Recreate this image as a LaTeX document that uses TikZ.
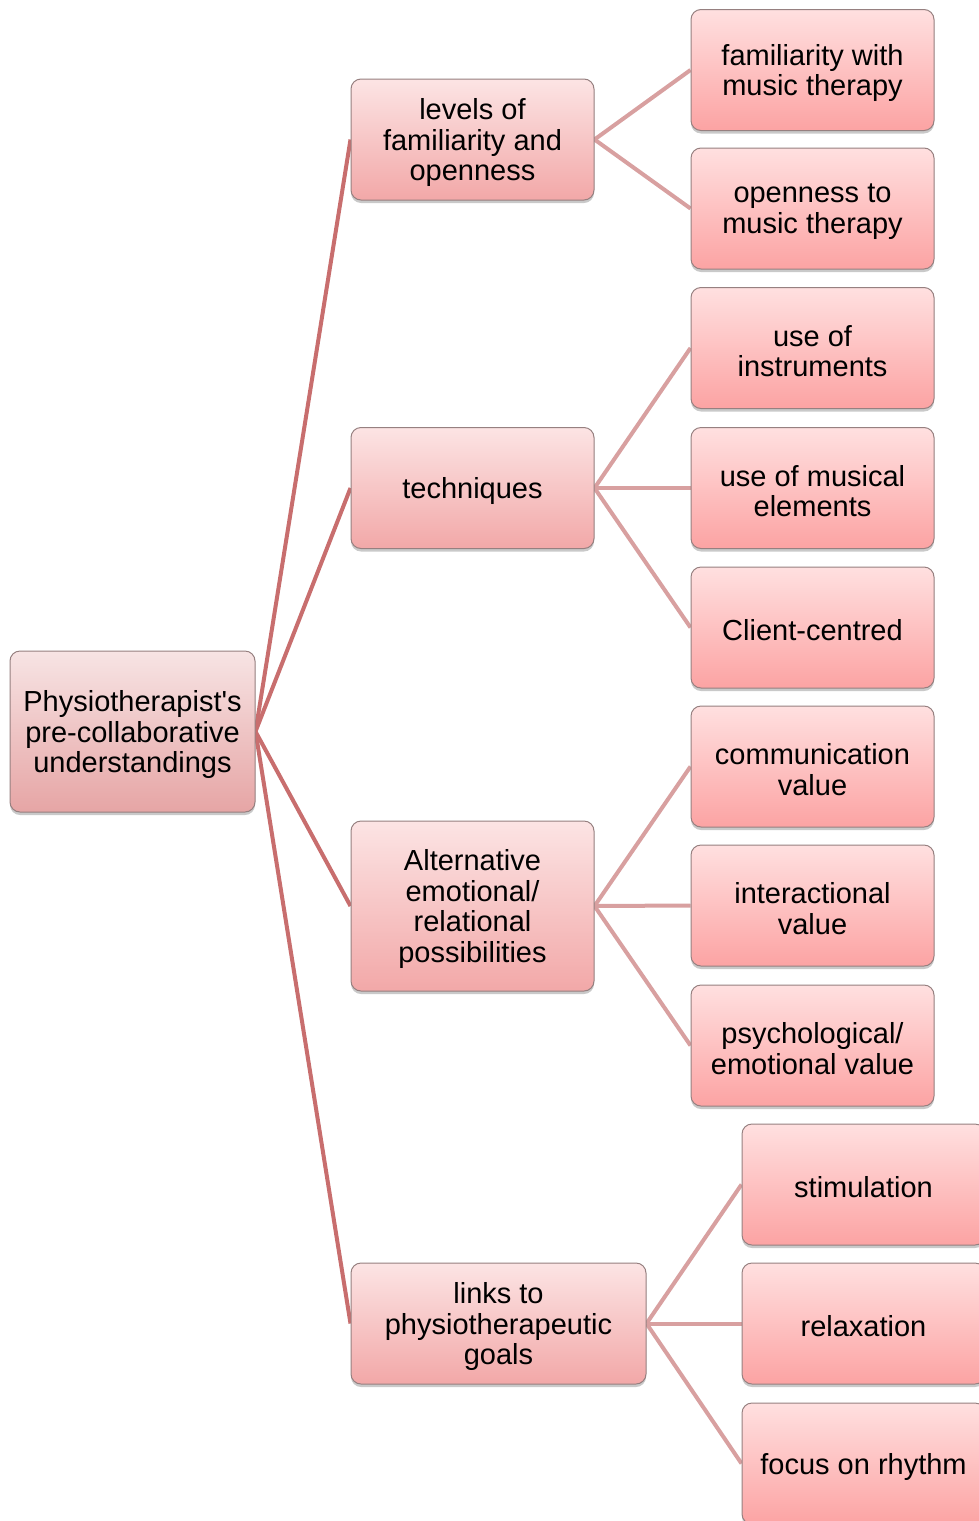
\documentclass[tikz,border=0pt]{standalone}
\usepackage{fontspec}
\setmainfont{Liberation Sans}
\usetikzlibrary{shadows,backgrounds}

\definecolor{boxline}{RGB}{150,128,128}
\definecolor{roottop}{RGB}{247,228,228}
\definecolor{rootbot}{RGB}{230,165,165}
\definecolor{midtop}{RGB}{252,228,228}
\definecolor{midbot}{RGB}{242,168,168}
\definecolor{leaftop}{RGB}{255,224,224}
\definecolor{leafbot}{RGB}{252,163,163}
\definecolor{trunk}{RGB}{200,110,110}
\definecolor{twig}{RGB}{216,160,160}

\tikzset{
  boxtext/.style={align=center, text=black, inner sep=0pt, yshift=-3pt,
    font=\fontsize{29}{30.5}\selectfont},
  txt/.style={label={[boxtext]center:{#1}}},
  box/.style={draw=boxline, line width=1pt, rounded corners=10pt,
    inner sep=0pt,
    drop shadow={shadow xshift=0pt, shadow yshift=-3pt, opacity=0.3, fill=black!70}},
  rootbox/.style={box, top color=roottop, bottom color=rootbot,
    minimum width=245pt, minimum height=161pt},
  midbox/.style={box, top color=midtop, bottom color=midbot,
    minimum width=243pt, minimum height=121pt},
  leafbox/.style={box, top color=leaftop, bottom color=leafbot,
    minimum width=243pt, minimum height=121pt},
  trunkline/.style={draw=trunk, line width=4pt},
  twigline/.style={draw=twig, line width=4pt},
}

\begin{document}
\begin{tikzpicture}[x=1pt,y=-1pt]
\useasboundingbox (0,0) rectangle (979,1521);
\clip (0,0) rectangle (979,1521);

% root
\node[rootbox, txt={Physiotherapist\textquotesingle s\\pre-collaborative\\understandings}] (root) at (132.5,731.5) {};

% first level
\node[midbox, txt={levels of\\familiarity and\\openness}] (levels) at (472.5,139.5) {};
\node[midbox, txt={techniques}] (tech) at (472.5,488) {};
\node[midbox, minimum height=170pt, txt={Alternative\\emotional/\\relational\\possibilities}] (alt) at (472.5,906) {};
\node[midbox, minimum width=295pt, txt={links to\\physiotherapeutic\\goals}] (links) at (498.5,1323.5) {};

% second level
\node[leafbox, txt={familiarity with\\music therapy}] (fam) at (812.5,70) {};
\node[leafbox, txt={openness to\\music therapy}] (open) at (812.5,208.5) {};
\node[leafbox, txt={use of\\instruments}] (instr) at (812.5,348) {};
\node[leafbox, txt={use of musical\\elements}] (elem) at (812.5,488) {};
\node[leafbox, txt={Client-centred}] (client) at (812.5,627.5) {};
\node[leafbox, txt={communication\\value}] (comm) at (812.5,766.5) {};
\node[leafbox, txt={interactional\\value}] (inter) at (812.5,905.5) {};
\node[leafbox, txt={psychological/\\emotional value}] (psych) at (812.5,1045.5) {};
\node[leafbox, txt={stimulation}] (stim) at (863.5,1184.5) {};
\node[leafbox, txt={relaxation}] (relax) at (863.5,1323.5) {};
\node[leafbox, txt={focus on rhythm}] (rhythm) at (863.5,1463.5) {};

% connectors
\begin{scope}[on background layer]
  \foreach \m in {levels,tech,alt,links}
    \draw[trunkline] (root.east) -- (\m.west);
  \foreach \l in {fam,open} \draw[twigline] (levels.east) -- (\l.west);
  \foreach \l in {instr,elem,client} \draw[twigline] (tech.east) -- (\l.west);
  \foreach \l in {comm,inter,psych} \draw[twigline] (alt.east) -- (\l.west);
  \foreach \l in {stim,relax,rhythm} \draw[twigline] (links.east) -- (\l.west);
\end{scope}
\end{tikzpicture}
\end{document}
